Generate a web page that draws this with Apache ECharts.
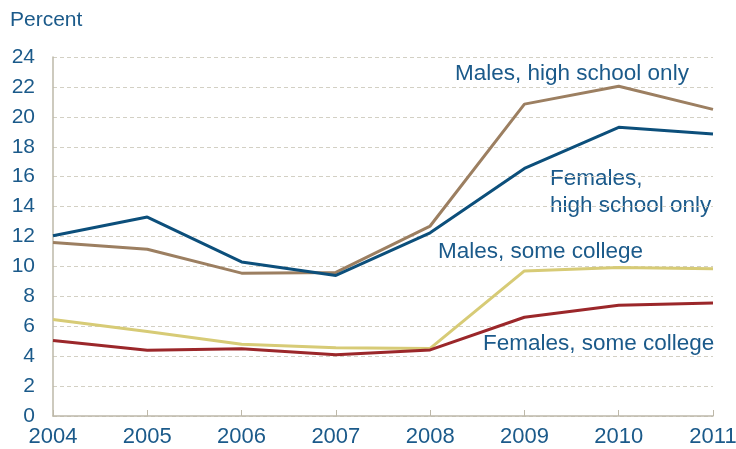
<!DOCTYPE html>
<html>
<head>
<meta charset="utf-8">
<script src="https://cdn.jsdelivr.net/npm/echarts@6/dist/echarts.min.js"></script>
<style>
  html, body { margin: 0; padding: 0; background: #fff; }
  #chart { width: 736px; height: 449px; }
</style>
</head>
<body>
<div id="chart"></div>
<script>
  // data
  var years = ['2004', '2005', '2006', '2007', '2008', '2009', '2010', '2011'];
  var malesHS = [11.6, 11.15, 9.55, 9.6, 12.7, 20.85, 22.05, 20.5];
  var femalesHS = [12.05, 13.3, 10.3, 9.4, 12.25, 16.55, 19.3, 18.85];
  var malesCollege = [6.45, 5.65, 4.8, 4.57, 4.52, 9.7, 9.92, 9.85];
  var femalesCollege = [5.05, 4.4, 4.5, 4.1, 4.42, 6.6, 7.4, 7.55];

  var textColor = '#1b5a8a';
  var font = 'Liberation Sans, Arial, sans-serif';

  var chart = echarts.init(document.getElementById('chart'));

  function line(name, data, color) {
    return {
      name: name,
      type: 'line',
      data: data,
      symbol: 'none',
      animation: false,
      lineStyle: { width: 3, color: color }
    };
  }

  function note(text, x, y, size) {
    return {
      type: 'text',
      left: x,
      top: y,
      style: { text: text, fill: textColor, font: (size || 22.5) + 'px ' + font }
    };
  }

  chart.setOption({
    animation: false,
    grid: { left: 53, right: 23, top: 57, bottom: 33, outerBoundsMode: 'none', containLabel: false },
    xAxis: {
      type: 'category',
      data: years,
      boundaryGap: false,
      axisLine: { lineStyle: { color: '#bdb8a9', width: 1.5 } },
      axisTick: { inside: true, length: 6, lineStyle: { color: '#bdb8a9' } },
      axisLabel: { color: textColor, fontSize: 22, fontFamily: font, margin: 10 },
      splitLine: { show: false }
    },
    yAxis: {
      type: 'value',
      min: 0,
      max: 24,
      interval: 2,
      axisLine: { show: true, lineStyle: { color: '#bdb8a9', width: 1.5 } },
      axisTick: { show: false },
      axisLabel: { color: textColor, fontSize: 21, fontFamily: font, margin: 18 },
      splitLine: { lineStyle: { color: '#d3d0c4', type: [4, 3], width: 1 } }
    },
    graphic: [
      note('Percent', 10, 10, 21),
      note('Males, high school only', 455, 62),
      note('Females,', 550, 167),
      note('high school only', 550, 194),
      note('Males, some college', 438, 240),
      note('Females, some college', 483, 332)
    ],
    series: [
      line('Males, high school only', malesHS, '#9c7f61'),
      line('Females, high school only', femalesHS, '#0c4f7b'),
      line('Males, some college', malesCollege, '#d7cb76'),
      line('Females, some college', femalesCollege, '#9b272a')
    ]
  });
</script>
</body>
</html>
